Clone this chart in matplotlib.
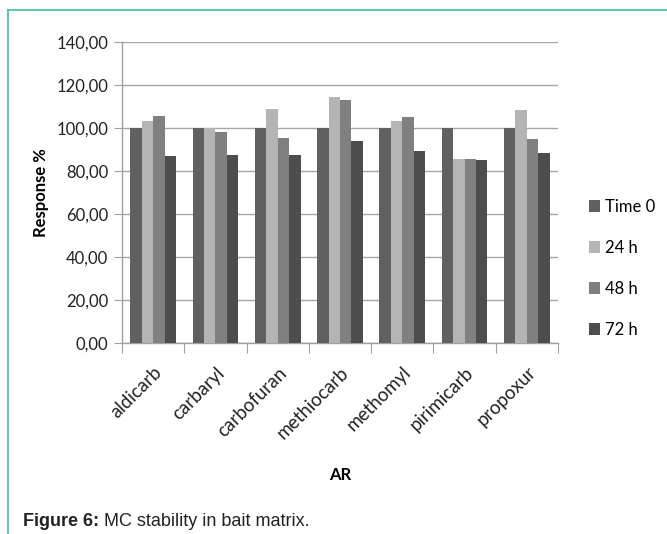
import matplotlib
matplotlib.use('Agg')
import matplotlib.pyplot as plt
from matplotlib.patches import Patch
from matplotlib.lines import Line2D
import numpy as np

pesticides = ['aldicarb', 'carbaryl', 'carbofuran', 'methiocarb', 'methomyl', 'pirimicarb', 'propoxur']
series = ['Time 0', '24 h', '48 h', '72 h']
time0 = [100.0, 100.0, 100.0, 100.0, 100.0, 100.0, 100.0]
h24 = [103.3, 100.0, 108.9, 114.4, 103.3, 85.5, 108.3]
h48 = [105.7, 98.0, 95.3, 112.9, 105.2, 85.6, 94.8]
h72 = [87.2, 87.6, 87.6, 93.8, 89.2, 85.0, 88.2]
colors = ['#606060', '#b4b4b4', '#808080', '#4d4d4d']
yticks = [0, 20, 40, 60, 80, 100, 120, 140]

FONT = 'Lato'
TEAL = '#3dbfa7'

fig = plt.figure(figsize=(6.67, 5.34), dpi=100)
ax = fig.add_axes([0.1829, 0.3577, 0.6537, 0.5636])

x = np.arange(len(pesticides))
w = 0.183
for i, (vals, lab, col) in enumerate(zip([time0, h24, h48, h72], series, colors)):
    ax.bar(x + (i - 1.5) * w, vals, width=w, color=col, label=lab, zorder=3)

ax.set_xlim(-0.5, len(pesticides) - 0.5)
ax.set_ylim(0, 140)
ax.set_yticks(yticks)
ax.set_yticklabels([f'{v:.2f}'.replace('.', ',') for v in yticks],
                   fontfamily=FONT, fontsize=12, color='#222222')
ax.grid(axis='y', color='#a6a6a6', lw=1, zorder=0)
ax.tick_params(axis='y', direction='out', length=6, color='#a0a0a0', pad=4)

# category boundary ticks, labels at centres
ax.set_xticks(np.arange(-0.5, len(pesticides)), minor=False)
ax.set_xticklabels([])
ax.set_xticks(x, minor=True)
ax.set_xticklabels(pesticides, minor=True, rotation=45, ha='right', va='top',
                   rotation_mode='anchor', fontfamily=FONT, fontsize=13.5,
                   color='#222222')
ax.tick_params(axis='x', which='major', direction='out', length=7, color='#a0a0a0')
ax.tick_params(axis='x', which='minor', length=0, pad=15)

for s in ['top', 'right']:
    ax.spines[s].set_visible(False)
for s in ['left', 'bottom']:
    ax.spines[s].set_color('#a0a0a0')
    ax.spines[s].set_linewidth(1)

ax.set_ylabel('Response %', fontfamily=FONT, fontsize=12, fontweight='bold', labelpad=5)
ax.set_xlabel('AR', fontfamily=FONT, fontsize=12, fontweight='bold', labelpad=18)

handles = [Patch(facecolor=c, edgecolor='none') for c in colors]
fig.legend(handles, series, loc='center left', bbox_to_anchor=(0.860, 0.497),
           frameon=False, prop={'family': FONT, 'size': 12},
           handlelength=0.7, handleheight=0.7, handletextpad=0.3, labelspacing=1.5)

# teal frame lines
fig.add_artist(Line2D([8 / 667, 8 / 667], [0, 1 - 10 / 534], color=TEAL, lw=1.2))
fig.add_artist(Line2D([8 / 667, 1], [1 - 10 / 534, 1 - 10 / 534], color=TEAL, lw=1.2))

cap = fig.text(23 / 667, 1 - 522 / 534, 'Figure 6:', fontfamily='Liberation Sans',
               fontsize=13, fontweight='bold', va='center', color='#222222')
fig.canvas.draw()
bb = cap.get_window_extent()
fig.text(bb.x1 / fig.bbox.width + 5 / 667, 1 - 522 / 534, 'MC stability in bait matrix.',
         fontfamily='Liberation Sans', fontsize=13, va='center', color='#222222')

fig.savefig('out.png', dpi=100)
